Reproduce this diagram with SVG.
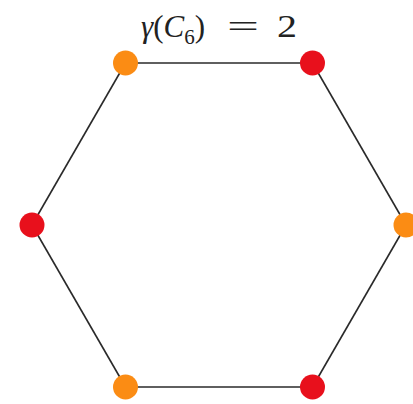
<svg xmlns="http://www.w3.org/2000/svg" width="413" height="404" viewBox="0 0 413 404">
<style>
.edge{stroke:#2a2a2a;stroke-width:1.6;fill:none}
.red{fill:#e8101c}
.orange{fill:#fb8c14}
.t{font-family:"Liberation Serif","DejaVu Serif","Times New Roman",serif;font-size:31px;fill:#222}
</style>
<rect width="413" height="404" fill="#ffffff"/>
<g id="title">
<text class="t" x="141" y="37"><tspan font-style="italic">γ</tspan><tspan>(</tspan><tspan font-style="italic">C</tspan><tspan font-size="21" dy="7">6</tspan><tspan dy="-7">)</tspan></text>
<text class="t" x="227" y="37" textLength="32" lengthAdjust="spacingAndGlyphs">=</text>
<text class="t" x="277" y="37" textLength="20" lengthAdjust="spacingAndGlyphs">2</text>
</g>
<g id="edges">
<line class="edge" x1="125.5" y1="63" x2="312.5" y2="63"/>
<line class="edge" x1="312.5" y1="63" x2="406" y2="225"/>
<line class="edge" x1="406" y1="225" x2="312.5" y2="387"/>
<line class="edge" x1="312.5" y1="387" x2="125.5" y2="387"/>
<line class="edge" x1="125.5" y1="387" x2="32" y2="225"/>
<line class="edge" x1="32" y1="225" x2="125.5" y2="63"/>
</g>
<g id="v1"><circle class="orange" cx="125.5" cy="63" r="12.5"/></g>
<g id="v2"><circle class="red" cx="312.5" cy="63" r="12.5"/></g>
<g id="v3"><circle class="orange" cx="406" cy="225" r="12.5"/></g>
<g id="v4"><circle class="red" cx="312.5" cy="387" r="12.5"/></g>
<g id="v5"><circle class="orange" cx="125.5" cy="387" r="12.5"/></g>
<g id="v6"><circle class="red" cx="32" cy="225" r="12.5"/></g>
</svg>
